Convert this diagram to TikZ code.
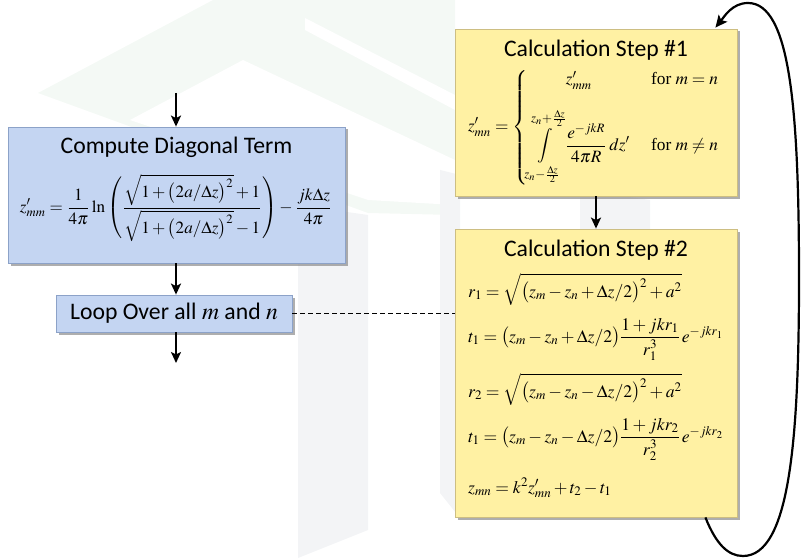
\documentclass[tikz,border=0pt]{standalone}
\usepackage{amsmath}
\usepackage{graphicx}
\usepackage{mathptmx}
\usepackage[no-math]{fontspec}
\setmainfont{Carlito}
\newfontfamily\tnr{Liberation Serif}
\usetikzlibrary{arrows.meta,shadows,calc}
\definecolor{bfill}{RGB}{196,213,242}
\definecolor{bdraw}{RGB}{140,162,200}
\definecolor{yfill}{RGB}{255,241,163}
\definecolor{ydraw}{RGB}{205,190,130}
\definecolor{wmgreen}{RGB}{244,249,245}
\definecolor{wmgrey}{RGB}{243,244,246}
\newcommand\forw{\text{\tnr for\ }}
\begin{document}
\begin{tikzpicture}[x=1pt,y=1pt,
  boxshadow/.style={drop shadow={shadow xshift=2.5pt,shadow yshift=-2.5pt,fill=black!45,opacity=0.7}},
  bluebox/.style={draw=bdraw,fill=bfill,line width=0.8pt,inner sep=0pt,boxshadow},
  yelbox/.style={draw=ydraw,fill=yfill,line width=0.8pt,inner sep=0pt,boxshadow},
  titletext/.style={font=\fontsize{23.7}{28}\selectfont,inner sep=0pt},
  eqtext/.style={font=\fontsize{17.6}{21}\selectfont,inner sep=0pt},
  flow/.style={line width=2pt,-{Stealth[length=11pt,width=10pt,inset=2.5pt]}},
  loopback/.style={line width=2.2pt,-{Stealth[length=12pt,width=11pt,inset=2.5pt]}}]
\useasboundingbox (0,0) rectangle (803,558);
% faint watermark
\fill[wmgreen] (38,465) -- (213,558) -- (455,558) -- (455,343) -- (368,345) -- cycle;
\fill[white] (243,498) -- (455,398) -- (455,353) -- (368,358) -- (130,438) -- cycle;
\fill[white] (305,540) -- (455,463) -- (455,448) -- (305,528) -- cycle;
\fill[wmgrey] (298,353) -- (368,343) -- (368,28) -- (298,0) -- cycle;
\fill[wmgrey] (440,388) -- (460,383) -- (460,40) -- (440,65) -- cycle;
\fill[wmgrey] (580,368) -- (650,358) -- (650,60) -- (580,60) -- cycle;
% left column
\node[bluebox,minimum width=337pt,minimum height=136pt] (db) at (176.5,363) {};
\node[titletext] (dbt) at (176.5,411) {Compute Diagonal Term};
\node[inner sep=0pt] (dbe) at (176,350) {\resizebox{312pt}{!}{$\displaystyle z'_{mm}=\frac{1}{4\pi}\ln\left(\frac{\sqrt{1+\bigl(2a/\Delta z\bigr)^{2}}+1}{\sqrt{1+\bigl(2a/\Delta z\bigr)^{2}}-1}\right)-\frac{jk\Delta z}{4\pi}$}};
\node[bluebox,minimum width=236pt,minimum height=37pt,font=\fontsize{23.7}{28}\selectfont] (loop) at (174,244.5) {Loop Over all $m$ and $n$};
\coordinate (in) at (176,465);
\coordinate (out) at (176,195);
\draw[flow] (in) -- (in |- db.north);
\draw[flow] (in |- db.south) -- (in |- loop.north);
\draw[flow] (in |- loop.south) -- (out);
% right column
\node[yelbox,minimum width=282pt,minimum height=167pt] (s1) at (596,445.5) {};
\node[titletext] (s1t) at (596,508) {Calculation Step \#1};
\node[inner sep=0pt] (s1e) at (594,430.5) {\resizebox{252pt}{!}{$\displaystyle z'_{mn}=\left\{\begin{array}{@{}c@{\quad\ }l@{}}
 z'_{mm} & \forw m=n\\[10pt]
 \displaystyle\int\limits_{z_n-\frac{\Delta z}{2}}^{z_n+\frac{\Delta z}{2}}\frac{e^{-jkR}}{4\pi R}\,dz' & \forw m\neq n
 \end{array}\right.$}};
\node[yelbox,minimum width=282pt,minimum height=288pt] (s2) at (596,185) {};
\node[titletext] (s2t) at (596,308) {Calculation Step \#2};
\node[eqtext,anchor=base west] (r1) at (468,261) {$r_1=\sqrt{\bigl(z_m-z_n+\Delta z/2\bigr)^{2}+a^{2}}$};
\node[eqtext,anchor=base west] (t1) at (468,216) {$t_1=\bigl(z_m-z_n+\Delta z/2\bigr)\dfrac{1+jkr_1}{r_1^{3}}\,e^{-jkr_1}$};
\node[eqtext,anchor=base west] (r2) at (468,161) {$r_2=\sqrt{\bigl(z_m-z_n-\Delta z/2\bigr)^{2}+a^{2}}$};
\node[eqtext,anchor=base west] (t2) at (468,116) {$t_1=\bigl(z_m-z_n-\Delta z/2\bigr)\dfrac{1+jkr_2}{r_2^{3}}\,e^{-jkr_2}$};
\node[eqtext,anchor=base west] (zmn) at (468,65) {$z_{mn}=k^{2}z'_{mn}+t_2-t_1$};
\draw[flow] (s1.south) -- (s2.north);
\draw[dashed,line width=0.9pt,dash pattern=on 5pt off 3pt] (loop.east) -- (loop.east -| s2.west);
\coordinate (cs) at ($(s2.south east)+(-32,0)$);
\coordinate (ce) at ($(s1.north east)+(-22,1)$);
\draw[loopback] (cs) .. controls (716,14) and (728,2) .. (743,2)
  .. controls (790,2) and (799,120) .. (799,280)
  .. controls (799,450) and (790,555) .. (748,555)
  .. controls (732,555) and (724,541) .. (ce);
\end{tikzpicture}
\end{document}
